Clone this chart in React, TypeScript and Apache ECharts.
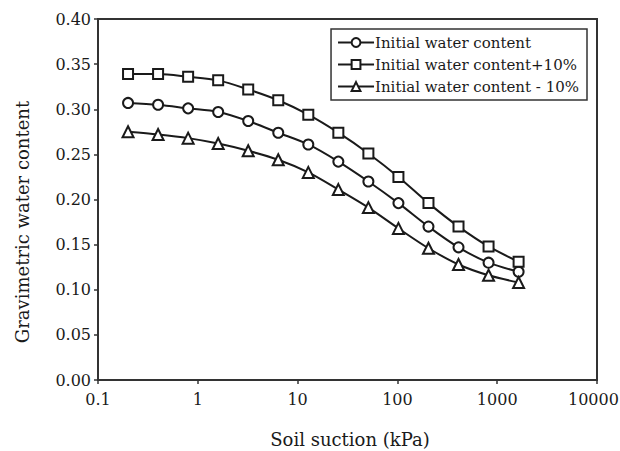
import React, { useEffect, useRef } from "react";
import * as echarts from "echarts";

// Soil suction (kPa), doubling steps
const suction = [0.2, 0.4, 0.8, 1.6, 3.2, 6.4, 12.8, 25.6, 51.2, 102.4, 204.8, 409.6, 819.2, 1638.4];

const initialWC = [0.307, 0.305, 0.301, 0.297, 0.287, 0.274, 0.261, 0.242, 0.220, 0.196, 0.170, 0.147, 0.130, 0.120];
const plus10WC = [0.339, 0.339, 0.336, 0.332, 0.322, 0.310, 0.294, 0.274, 0.251, 0.225, 0.196, 0.170, 0.148, 0.131];
const minus10WC = [0.275, 0.272, 0.268, 0.262, 0.254, 0.244, 0.230, 0.211, 0.191, 0.168, 0.146, 0.128, 0.116, 0.108];

const seriesNames = [
  "Initial water content",
  "Initial water content+10%",
  "Initial water content - 10%",
];

const yTitle = "Gravimetric water content";
const xTitle = "Soil suction (kPa)";

const X_MIN = 0.1;
const X_MAX = 10000;

const FONT = "DejaVu Serif";
const INK = "#1a1a1a";

export default function App() {
  const ref = useRef<HTMLDivElement>(null);

  useEffect(() => {
    if (!ref.current) return;
    const chart = echarts.init(ref.current, null, { renderer: "svg" });

    const mk = (name: string, vals: number[], symbol: string, size: number) => ({
      name,
      type: "line",
      data: suction.map((s, i) => [s, vals[i]]),
      smooth: 0.3,
      symbol,
      symbolSize: size,
      showSymbol: true,
      color: INK,
      lineStyle: { color: INK, width: 2 },
      itemStyle: { color: INK, borderColor: INK, borderWidth: 2 },
    });

    chart.setOption({
      animation: false,
      backgroundColor: "#fff",
      textStyle: { fontFamily: FONT, color: INK },
      grid: {
        left: 98,
        right: 23,
        top: 19,
        bottom: 71,
        containLabel: false,
        outerBoundsMode: "none",
        show: true,
        borderColor: "#333",
        borderWidth: 2,
        backgroundColor: "transparent",
      },
      legend: {
        orient: "vertical",
        right: 33,
        top: 29,
        itemGap: 7,
        itemWidth: 36,
        itemHeight: 11,
        padding: [6, 8, 6, 6],
        borderColor: "#333",
        borderWidth: 1.5,
        backgroundColor: "#fff",
        data: seriesNames,
        textStyle: { fontFamily: FONT, fontSize: 15, color: INK, padding: [0, 0, 0, -4] },
      },
      graphic: [
        {
          type: "text",
          x: 22,
          y: 222,
          rotation: Math.PI / 2,
          style: {
            text: yTitle,
            fontFamily: FONT,
            fontSize: 18,
            fill: INK,
            textAlign: "center",
            textVerticalAlign: "middle",
          },
        },
        {
          type: "text",
          x: 350,
          y: 439,
          style: {
            text: xTitle,
            fontFamily: FONT,
            fontSize: 18,
            fill: INK,
            textAlign: "center",
            textVerticalAlign: "middle",
          },
        },
      ],
      xAxis: {
        type: "log",
        logBase: 10,
        min: X_MIN,
        max: X_MAX,
        axisLine: { show: true, lineStyle: { color: "#333", width: 2 } },
        axisTick: { show: true, length: 4, lineStyle: { color: "#333", width: 1.5 } },
        minorTick: { show: false },
        splitLine: { show: false },
        axisLabel: {
          fontFamily: FONT,
          fontSize: 16,
          color: INK,
          margin: 11,
          formatter: (v: number) => {
            const s = String(Number(v.toPrecision(6)));
            // the last label is nudged left so it stays on the page
            return Math.abs(v - X_MAX) < 1e-6 ? `{edge|${s}}` : s;
          },
          rich: {
            edge: { width: 58, align: "left", fontFamily: FONT, fontSize: 16, color: INK },
          },
        },
      },
      yAxis: {
        type: "value",
        min: 0,
        max: 0.4,
        interval: 0.05,
        axisLine: { show: true, lineStyle: { color: "#333", width: 2 } },
        axisTick: { show: true, length: 4, lineStyle: { color: "#333", width: 1.5 } },
        splitLine: { show: false },
        axisLabel: {
          fontFamily: FONT,
          fontSize: 16,
          color: INK,
          margin: 7,
          formatter: (v: number) => v.toFixed(2),
        },
      },
      series: [
        mk(seriesNames[0], initialWC, "emptyCircle", 10),
        mk(seriesNames[1], plus10WC, "emptyRect", 10),
        mk(seriesNames[2], minus10WC, "emptyTriangle", 11),
      ],
    });

    return () => chart.dispose();
  }, []);

  return (
    <div
      ref={ref}
      style={{ position: "fixed", left: 0, top: 0, width: 620, height: 451 }}
    />
  );
}
